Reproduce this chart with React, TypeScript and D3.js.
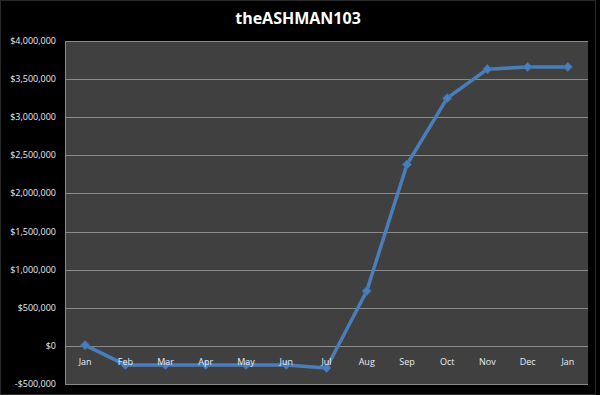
import React, { useEffect, useRef } from "react";
import * as d3 from "d3";

const months = ["Jan", "Feb", "Mar", "Apr", "May", "Jun", "Jul", "Aug", "Sep", "Oct", "Nov", "Dec", "Jan"];
const balance = [10000, -250000, -250000, -250000, -250000, -250000, -290000, 720000, 2380000, 3250000, 3630000, 3660000, 3660000];
const yTicks = [-500000, 0, 500000, 1000000, 1500000, 2000000, 2500000, 3000000, 3500000, 4000000];

const W = 600;
const H = 395;
const plot = { left: 65, right: 588, top: 41, bottom: 384 };

const App = () => {
  const svgRef = useRef<SVGSVGElement>(null);

  useEffect(() => {
    const svg = d3.select(svgRef.current);
    svg.selectAll("*").remove();

    // background + outer frame
    svg.append("rect").attr("width", W).attr("height", H).attr("fill", "#000");
    svg.append("rect")
      .attr("x", 0.5).attr("y", 0.5).attr("width", 595).attr("height", H - 1)
      .attr("fill", "none").attr("stroke", "#2a2a2a");

    const x = d3.scaleBand<number>()
      .domain(months.map((_, i) => i))
      .range([plot.left, plot.right]);

    const y = d3.scaleLinear()
      .domain([-500000, 4000000])
      .range([plot.bottom, plot.top]);

    // plot area
    svg.append("rect")
      .attr("x", plot.left).attr("y", plot.top)
      .attr("width", plot.right - plot.left).attr("height", plot.bottom - plot.top)
      .attr("fill", "#404040");

    // gridlines
    svg.append("g")
      .selectAll("line")
      .data(yTicks)
      .join("line")
      .attr("x1", plot.left).attr("x2", plot.right)
      .attr("y1", (d) => Math.round(y(d)) + 0.5).attr("y2", (d) => Math.round(y(d)) + 0.5)
      .attr("stroke", "#8a8a8a").attr("stroke-width", 1);

    // left axis line
    svg.append("line")
      .attr("x1", plot.left + 0.5).attr("x2", plot.left + 0.5)
      .attr("y1", plot.top).attr("y2", plot.bottom)
      .attr("stroke", "#8a8a8a");

    const fmt = (v: number) => (v < 0 ? "-$" : "$") + d3.format(",")(Math.abs(v));

    // y labels
    svg.append("g")
      .selectAll("text")
      .data(yTicks)
      .join("text")
      .attr("x", 56)
      .attr("y", (d) => y(d) + 3)
      .attr("text-anchor", "end")
      .attr("font-family", "'Open Sans', sans-serif")
      .attr("font-size", 9)
      .attr("fill", "#e8ecf4")
      .text(fmt);

    const cx = (i: number) => x(i)! + x.bandwidth() / 2;

    const line = d3.line<number>()
      .x((_, i) => cx(i))
      .y((d) => y(d));

    svg.append("path")
      .datum(balance)
      .attr("d", line)
      .attr("fill", "none")
      .attr("stroke", "#4a7ebb")
      .attr("stroke-width", 3.5)
      .attr("stroke-linejoin", "round");

    // diamond markers (rotated squares)
    svg.append("g")
      .selectAll("path")
      .data(balance)
      .join("path")
      .attr("transform", (d, i) => `translate(${cx(i)},${y(d)}) rotate(45)`)
      .attr("d", d3.symbol().type(d3.symbolSquare).size(42))
      .attr("fill", "#4a7ebb")
      .attr("stroke", "#3a6aa5")
      .attr("stroke-width", 0.8);

    // x labels (sit just under the zero line, drawn over the series)
    svg.append("g")
      .selectAll("text")
      .data(months)
      .join("text")
      .attr("x", (_, i) => cx(i))
      .attr("y", y(0) + 19)
      .attr("text-anchor", "middle")
      .attr("font-family", "'Open Sans', sans-serif")
      .attr("font-size", 9)
      .attr("fill", "#e8ecf4")
      .text((d) => d);

    // title
    svg.append("text")
      .attr("x", 298)
      .attr("y", 24)
      .attr("text-anchor", "middle")
      .attr("font-family", "'Open Sans', sans-serif")
      .attr("font-weight", "bold")
      .attr("font-size", 16)
      .attr("fill", "#fff")
      .text("theASHMAN103");
  }, []);

  return (
    <div style={{ position: "absolute", left: 0, top: 0 }}>
      <svg ref={svgRef} width={W} height={H} />
    </div>
  );
};

export default App;
